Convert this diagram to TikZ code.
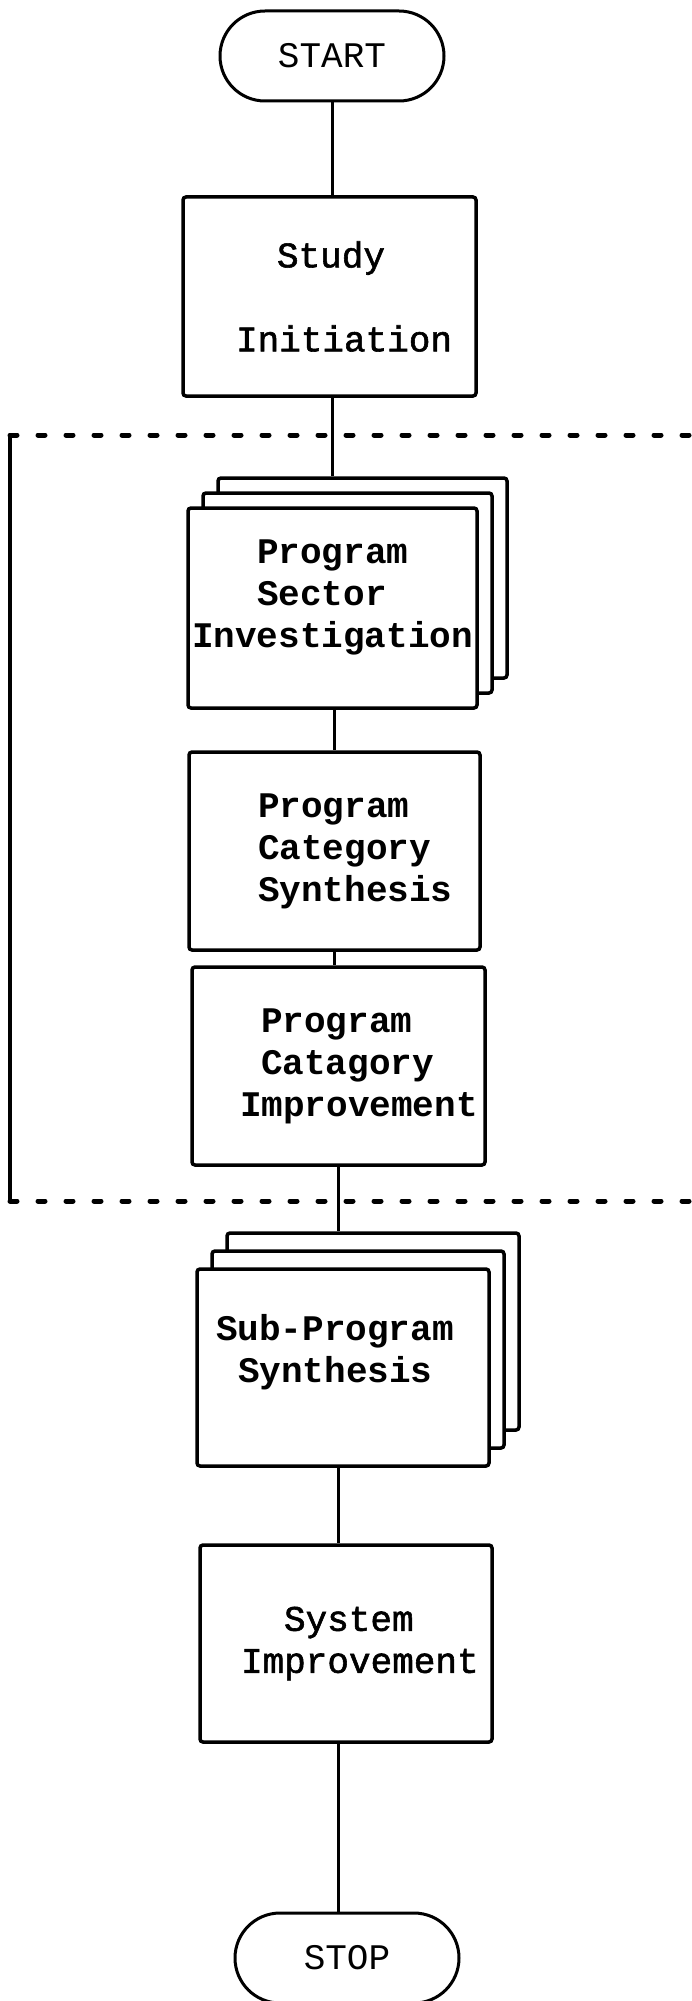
\documentclass[tikz,border=0pt]{standalone}
\usepackage{fontspec}
\newfontfamily\tw{Liberation Mono}
\newfontfamily\twm[FakeBold=1.6]{Liberation Mono}
\begin{document}
\begin{tikzpicture}[x=1pt,y=-1pt,
  termfont/.style={font=\tw\fontsize{36}{42}\selectfont},
  boxfont/.style={font=\twm\fontsize{36}{42}\selectfont},
  boxbold/.style={font=\tw\bfseries\fontsize{36}{42}\selectfont},
  terminal/.style={draw, line width=3pt, rounded corners=45pt, minimum width=224pt,
     minimum height=90pt, inner sep=0pt, termfont},
  procbox/.style={draw, fill=white, line width=3.5pt, rounded corners=3pt, inner sep=0pt,
     align=left},
  conn/.style={line width=3pt},
  framedash/.style={line width=5pt, line cap=round, dash pattern=on 7pt off 21pt},
  framesolid/.style={line width=4pt}
]
\useasboundingbox (0,0) rectangle (691,2001);

% frame of the repeated section
\draw[framedash] (10,435) -- (691,435);
\draw[framesolid] (10,435) -- (10,1201);
\draw[framedash] (10,1201) -- (691,1201);

% terminals
\node[terminal] (start) at (332,56) {START};
\node[terminal] (stop) at (347,1958) {STOP};

% study initiation
\node[procbox, boxfont, minimum width=293pt, text width=293pt, minimum height=199pt] (study) at (329.5,296.5)
  {\hspace*{94pt}Study\\[42pt]\hspace*{53pt}Initiation};

% program sector investigation (stacked)
\node[procbox, minimum width=289pt, minimum height=200pt] (psic) at (362.5,578) {};
\node[procbox, minimum width=289pt, minimum height=200pt] (psib) at (347.5,593) {};
\node[procbox, boxbold, minimum width=289pt, text width=289pt, minimum height=200pt] (psi) at (332.5,608)
  {\hspace*{69pt}Program\\\hspace*{69pt}Sector\\\hspace*{4pt}Investigation\\[-14pt]\mbox{}};

% program category synthesis
\node[procbox, boxbold, minimum width=291pt, text width=291pt, minimum height=198pt] (pcs) at (334.5,851)
  {\hspace*{69pt}Program\\\hspace*{69pt}Category\\\hspace*{69pt}Synthesis};

% program catagory improvement
\node[procbox, boxbold, minimum width=293pt, text width=293pt, minimum height=198pt] (pci) at (338.5,1066)
  {\hspace*{69pt}Program\\\hspace*{69pt}Catagory\\\hspace*{48pt}Improvement};

% sub-program synthesis (stacked)
\node[procbox, minimum width=292pt, minimum height=197pt] (spsc) at (373,1331.5) {};
\node[procbox, minimum width=292pt, minimum height=197pt] (spsb) at (358,1349.5) {};
\node[procbox, boxbold, minimum width=292pt, text width=292pt, minimum height=197pt] (sps) at (343,1367.5)
  {\hspace*{19pt}Sub-Program\\\hspace*{41pt}Synthesis\\[-4pt]\mbox{}};

% system improvement
\node[procbox, boxfont, minimum width=292pt, text width=292pt, minimum height=197pt] (si) at (346,1643.5)
  {\hspace*{84pt}System\\\hspace*{41pt}Improvement};

% connectors
\draw[conn] (start.south) -- (start.south |- study.north);
\draw[conn] (psi.north |- study.south) -- (psi.north |- psic.north);
\draw[conn] (pcs.north |- psi.south) -- (pcs.north);
\draw[conn] (pcs.south) -- (pcs.south |- pci.north);
\draw[conn] (pci.south) -- (pci.south |- spsc.north);
\draw[conn] (pci.south |- sps.south) -- (pci.south |- si.north);
\draw[conn] (pci.south |- si.south) -- (pci.south |- stop.north);
\end{tikzpicture}
\end{document}
